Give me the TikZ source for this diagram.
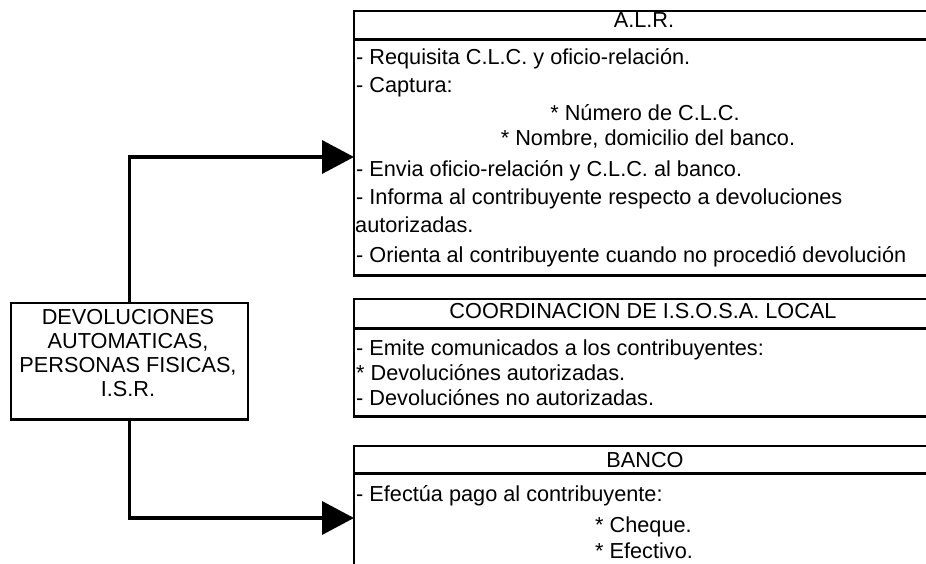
\documentclass[tikz,border=0pt]{standalone}
\usepackage{fontspec}
\setmainfont{Liberation Sans}
\usetikzlibrary{arrows.meta}
\begin{document}
\begin{tikzpicture}[x=1pt,y=-1pt,
  font=\fontsize{21.7}{26}\selectfont,
  panel/.style={draw, line width=1.6pt, anchor=north west, inner sep=0pt},
  heavy/.style={line width=3pt},
  txt/.style={anchor=base west, inner sep=0pt},
  ctxt/.style={anchor=base, inner sep=0pt},
  conn/.style={line width=3.6pt, -{Triangle[length=32pt,width=33pt]}, shorten >=-1pt}]
\useasboundingbox (0,0) rectangle (926,564);
% main box
\node[panel, minimum width=237pt, minimum height=117pt] (main) at (10,302) {};
\draw[heavy] (10,419) -- (247,419);
\node[ctxt] (m1) at (128,324) {DEVOLUCIONES};
\node[ctxt] (m2) at (128,348) {AUTOMATICAS,};
\node[ctxt] (m3) at (128,372) {PERSONAS FISICAS,};
\node[ctxt] (m4) at (128,396) {I.S.R.};
% A.L.R. box
\node[panel, minimum width=600pt, minimum height=265pt] (alr) at (353,10) {};
\draw[heavy] (353,40) -- (953,40);
\draw[heavy] (353,275) -- (953,275);
\node[ctxt] (alrh) at (644,28) {A.L.R.};
\node[txt] (a1) at (356,65) {- Requisita C.L.C. y oficio-relación.};
\node[txt] (a2) at (356,93) {- Captura:};
\node[ctxt] (a3) at (645,121) {* Número de C.L.C.};
\node[ctxt] (a4) at (648,146) {* Nombre, domicilio del banco.};
\node[txt] (a5) at (356,177) {- Envia oficio-relación y C.L.C. al banco.};
\node[txt] (a6) at (356,205) {- Informa al contribuyente respecto a devoluciones};
\node[txt] (a7) at (355,233) {autorizadas.};
\node[txt] (a8) at (356,262) {- Orienta al contribuyente cuando no procedió devolución};
% Coordinacion box
\node[panel, minimum width=600pt, minimum height=118pt] (coord) at (353,298) {};
\draw[heavy] (353,328) -- (953,328);
\draw[heavy] (353,416) -- (953,416);
\node[ctxt] (ch) at (643,318) {COORDINACION DE I.S.O.S.A. LOCAL};
\node[txt] (c1) at (356,355) {- Emite comunicados a los contribuyentes:};
\node[txt] (c2) at (356,380) {* Devoluciónes autorizadas.};
\node[txt] (c3) at (356,405) {- Devoluciónes no autorizadas.};
% Banco box
\node[panel, minimum width=600pt, minimum height=160pt] (banco) at (353,445) {};
\draw[heavy] (353,473) -- (953,473);
\node[ctxt] (bh) at (645,467) {BANCO};
\node[txt] (b1) at (356,501) {- Efectúa pago al contribuyente:};
\node[txt] (b2) at (595,532) {* Cheque.};
\node[txt] (b3) at (595,558) {* Efectivo.};
% connectors
\coordinate (ain) at (alr.west |- 0,157);
\coordinate (bin) at (banco.west |- 0,518);
\draw[conn] (main.north) |- (ain);
\draw[conn] (main.south) |- (bin);
\end{tikzpicture}
\end{document}
